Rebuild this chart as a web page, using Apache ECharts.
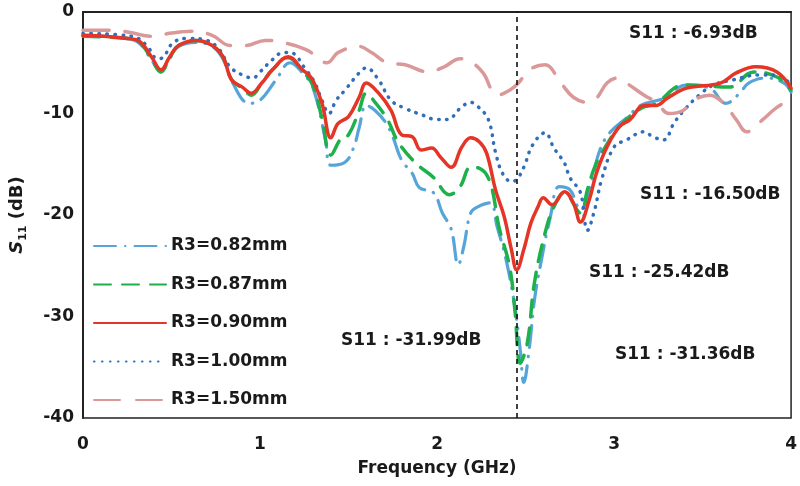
<!DOCTYPE html>
<html>
<head>
<meta charset="utf-8">
<script src="https://cdn.jsdelivr.net/npm/echarts@6/dist/echarts.min.js"></script>
<style>
  html, body { margin: 0; padding: 0; background: #fff; }
  #chart { width: 800px; height: 486px; }
</style>
</head>
<body>
<div id="chart"></div>
<script>
// S11 vs frequency for different R3 values
var names = ['R3=0.82mm', 'R3=0.87mm', 'R3=0.90mm', 'R3=1.00mm', 'R3=1.50mm'];
var markFreq = 2.45;
var xTicks = [0, 1, 2, 3, 4];
var yTicks = [-40, -30, -20, -10, 0];

var f082 = [0, 0.25, 0.32, 0.39, 0.44, 0.49, 0.54, 0.64, 0.73, 0.79, 0.84, 0.94, 1.0, 1.09, 1.17, 1.24, 1.3, 1.37, 1.4, 1.48, 1.53, 1.56, 1.6, 1.65, 1.71, 1.75, 1.8, 1.86, 1.9, 1.98, 2.03, 2.08, 2.12, 2.15, 2.19, 2.23, 2.3, 2.34, 2.39, 2.44, 2.47, 2.49, 2.52, 2.55, 2.59, 2.64, 2.69, 2.75, 2.81, 2.87, 2.92, 2.98, 3.08, 3.15, 3.28, 3.41, 3.54, 3.63, 3.71, 3.76, 3.86, 3.96, 4.0];
var s082 = [-2.3, -2.6, -3.1, -4.8, -5.9, -4.6, -3.4, -3.0, -3.4, -4.6, -6.8, -9.0, -8.7, -6.7, -5.0, -6.0, -7.5, -12.6, -15.1, -14.8, -13.3, -11.4, -9.2, -9.7, -10.9, -12.3, -14.6, -15.9, -17.3, -17.8, -19.8, -21.4, -24.9, -23.2, -19.8, -19.2, -18.8, -21.2, -24.4, -29.1, -33.3, -36.5, -33.3, -28.4, -24.4, -20.2, -17.2, -17.5, -19.5, -16.8, -13.6, -11.8, -10.3, -9.2, -8.5, -7.2, -7.5, -9.0, -8.0, -7.0, -6.5, -7.0, -7.9];

var f087 = [0, 0.25, 0.32, 0.39, 0.44, 0.49, 0.54, 0.64, 0.73, 0.79, 0.84, 0.9, 0.95, 1.01, 1.07, 1.16, 1.24, 1.3, 1.35, 1.4, 1.46, 1.5, 1.56, 1.6, 1.65, 1.72, 1.78, 1.88, 1.98, 2.07, 2.13, 2.19, 2.24, 2.3, 2.35, 2.41, 2.44, 2.47, 2.51, 2.55, 2.61, 2.66, 2.72, 2.81, 2.85, 2.89, 2.94, 3.03, 3.15, 3.24, 3.35, 3.41, 3.65, 3.79, 3.92, 4.0];
var s087 = [-2.4, -2.6, -3.0, -4.7, -5.9, -4.5, -3.3, -2.8, -3.3, -4.4, -6.7, -7.5, -8.2, -7.0, -5.7, -4.5, -5.8, -7.3, -10.5, -14.1, -12.4, -12.1, -9.7, -8.0, -8.9, -10.6, -12.8, -14.9, -16.3, -18.0, -17.2, -15.3, -15.4, -16.8, -21.2, -25.1, -29.4, -34.6, -32.6, -26.7, -21.8, -19.2, -17.8, -19.8, -17.5, -15.3, -13.6, -11.3, -9.5, -9.0, -7.4, -7.2, -7.4, -5.9, -6.4, -7.7];

var f090 = [0, 0.25, 0.32, 0.39, 0.44, 0.49, 0.54, 0.64, 0.73, 0.79, 0.84, 0.9, 0.95, 1.01, 1.07, 1.16, 1.24, 1.29, 1.35, 1.4, 1.44, 1.5, 1.56, 1.6, 1.67, 1.74, 1.8, 1.86, 1.91, 1.97, 2.02, 2.08, 2.14, 2.19, 2.24, 2.28, 2.33, 2.38, 2.42, 2.45, 2.49, 2.53, 2.57, 2.6, 2.65, 2.72, 2.77, 2.81, 2.86, 2.9, 2.96, 3.03, 3.09, 3.17, 3.24, 3.3, 3.41, 3.6, 3.69, 3.8, 3.92, 4.0];
var s090 = [-2.3, -2.6, -2.9, -4.5, -5.7, -4.4, -3.3, -2.8, -3.3, -4.4, -6.7, -7.4, -8.0, -7.0, -5.7, -4.4, -5.7, -6.5, -9.0, -12.4, -11.0, -10.3, -8.4, -7.0, -8.0, -9.7, -12.1, -12.3, -13.6, -13.4, -14.3, -15.3, -13.3, -12.4, -12.8, -13.9, -17.5, -20.2, -23.4, -25.4, -23.4, -20.8, -19.2, -18.3, -19.0, -17.7, -18.8, -20.7, -18.5, -15.9, -13.3, -11.3, -10.6, -9.2, -9.2, -8.5, -7.5, -7.0, -6.0, -5.4, -5.9, -7.5];

var f100 = [0, 0.28, 0.36, 0.42, 0.45, 0.51, 0.6, 0.7, 0.77, 0.83, 0.9, 0.96, 1.0, 1.07, 1.13, 1.17, 1.26, 1.31, 1.35, 1.39, 1.43, 1.48, 1.56, 1.6, 1.67, 1.74, 1.82, 1.91, 2.0, 2.06, 2.13, 2.19, 2.23, 2.29, 2.33, 2.37, 2.42, 2.45, 2.49, 2.54, 2.61, 2.66, 2.72, 2.75, 2.81, 2.85, 2.89, 2.93, 3.0, 3.07, 3.17, 3.22, 3.28, 3.34, 3.41, 3.48, 3.56, 3.67, 3.82, 3.92, 4.0];
var s100 = [-2.1, -2.4, -3.3, -4.6, -4.5, -3.0, -2.6, -2.8, -3.7, -5.4, -6.2, -6.5, -5.9, -4.7, -4.0, -4.0, -5.7, -7.0, -8.7, -10.0, -8.7, -7.7, -6.0, -5.5, -6.7, -8.7, -9.5, -10.1, -10.6, -10.6, -9.5, -8.9, -9.3, -10.6, -13.8, -15.9, -16.7, -16.5, -15.3, -13.1, -11.9, -13.4, -14.9, -16.3, -17.8, -21.5, -19.5, -16.5, -13.3, -12.6, -11.8, -12.3, -12.6, -10.9, -9.4, -8.2, -7.2, -6.7, -6.2, -6.2, -7.2];

var f150 = [0, 0.17, 0.26, 0.39, 0.49, 0.62, 0.73, 0.83, 0.92, 1.03, 1.1, 1.26, 1.38, 1.44, 1.56, 1.63, 1.72, 1.82, 1.95, 2.04, 2.13, 2.19, 2.26, 2.34, 2.41, 2.46, 2.52, 2.61, 2.7, 2.77, 2.85, 2.9, 2.96, 3.02, 3.07, 3.17, 3.24, 3.31, 3.39, 3.45, 3.54, 3.62, 3.69, 3.75, 3.84, 3.92, 3.97, 4.0];
var s150 = [-1.8, -1.8, -2.0, -2.4, -2.1, -1.9, -2.3, -3.3, -3.3, -2.8, -2.9, -3.7, -5.0, -4.0, -3.4, -4.0, -5.0, -5.2, -5.9, -5.4, -4.6, -4.9, -6.0, -8.2, -7.7, -7.0, -5.7, -5.2, -7.0, -8.4, -8.9, -8.5, -7.0, -6.5, -7.0, -8.2, -8.9, -10.0, -9.7, -8.7, -8.2, -9.0, -10.6, -11.8, -10.6, -9.4, -9.0, -9.6];

var notes = ['S11 : -6.93dB', 'S11 : -16.50dB', 'S11 : -25.42dB', 'S11 : -31.99dB', 'S11 : -31.36dB'];

function pairs(xs, ys) {
    var out = [];
    for (var i = 0; i < xs.length; i++) out.push([xs[i], ys[i]]);
    return out;
}

var FONT = 'DejaVu Sans';
var TXT = '#1a1a1a';
var myChart = echarts.init(document.getElementById('chart'));

var lineSeries = function (idx, data, color, width, type) {
    return {
        name: names[idx],
        type: 'line',
        data: data,
        smooth: 0.4,
        symbol: 'none',
        lineStyle: { color: color, width: width, type: type, cap: 'round' },
        itemStyle: { color: color }
    };
};

var series = [
    lineSeries(0, pairs(f082, s082), '#56a5d8', 3.2, [22, 9, 0.5, 9]),
    lineSeries(1, pairs(f087, s087), '#1db04b', 3.5, [17, 11]),
    lineSeries(2, pairs(f090, s090), '#e53527', 3.5, 'solid'),
    lineSeries(3, pairs(f100, s100), '#2f6eba', 3.5, [0.5, 7.5]),
    lineSeries(4, pairs(f150, s150), '#da9998', 3.5, [26, 16])
];
series[2].z = 5;
series[0].markLine = {
    silent: true,
    symbol: 'none',
    label: { show: false },
    lineStyle: { color: '#111', type: [5, 4], width: 1.6 },
    data: [{ xAxis: markFreq }]
};

// annotation anchors: left edge, vertical centre
var notePos = [[629, 34], [640, 195], [589, 273], [341, 341], [615, 355]];
var graphics = [];
for (var i = 0; i < notes.length; i++) {
    graphics.push({
        type: 'text', x: notePos[i][0], y: notePos[i][1],
        style: {
            text: notes[i], fontFamily: FONT, fontWeight: 'bold', fontSize: 17,
            fill: TXT, verticalAlign: 'middle', align: 'left'
        }
    });
}

var option = {
    animation: false,
    backgroundColor: '#fff',
    grid: {
        left: 83, right: 4, top: 12, bottom: 68,
        show: true, borderColor: '#222', borderWidth: 1.5
    },
    legend: {
        data: names,
        orient: 'vertical',
        left: 88, top: 231,
        itemWidth: 72, itemHeight: 14, itemGap: 18.5,
        itemStyle: { opacity: 0 },
        textStyle: { fontFamily: FONT, fontWeight: 'bold', fontSize: 17, color: TXT, lineHeight: 20 }
    },
    xAxis: {
        type: 'value',
        min: xTicks[0], max: xTicks[xTicks.length - 1], interval: 1,
        name: 'Frequency (GHz)',
        nameLocation: 'middle',
        nameGap: 42,
        nameTextStyle: { fontFamily: FONT, fontWeight: 'bold', fontSize: 17, color: TXT },
        axisLine: { show: true, lineStyle: { color: '#222', width: 2 } },
        axisTick: { show: false },
        splitLine: { show: false },
        axisLabel: { fontFamily: FONT, fontWeight: 'bold', fontSize: 17, color: TXT, margin: 18 }
    },
    yAxis: {
        type: 'value',
        min: yTicks[0], max: yTicks[yTicks.length - 1], interval: 10,
        name: '{i|S}{sub|11}{n| (dB)}',
        nameLocation: 'middle',
        nameGap: 54,
        nameRotate: 90,
        nameTextStyle: {
            rich: {
                i: { fontFamily: FONT, fontWeight: 'bold', fontStyle: 'italic', fontSize: 18, color: TXT },
                sub: { fontFamily: FONT, fontWeight: 'bold', fontSize: 11, color: TXT, padding: [12, 0, 0, 0] },
                n: { fontFamily: FONT, fontWeight: 'bold', fontSize: 18, color: TXT }
            }
        },
        axisLine: { show: true, lineStyle: { color: '#222', width: 2 } },
        axisTick: { show: false },
        splitLine: { show: false },
        axisLabel: { fontFamily: FONT, fontWeight: 'bold', fontSize: 17, color: TXT, margin: 9 }
    },
    graphic: graphics,
    series: series
};
myChart.setOption(option);
</script>
</body>
</html>
